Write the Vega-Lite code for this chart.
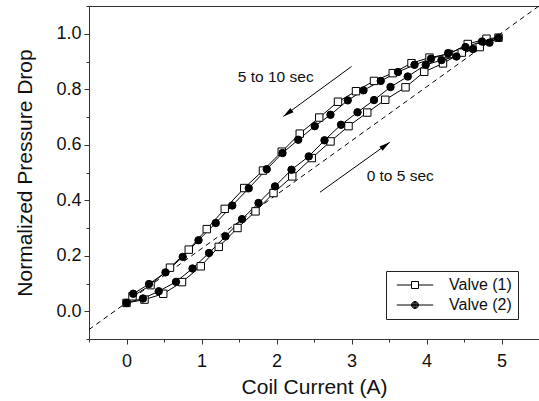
{
  "$schema": "https://vega.github.io/schema/vega-lite/v6.json",
  "width": 450,
  "height": 333,
  "autosize": {"type": "none"},
  "padding": {"left": 89, "top": 6, "right": 0, "bottom": 62},
  "background": "white",
  "config": {
    "font": "Liberation Sans",
    "view": {"stroke": "#333", "strokeWidth": 1},
    "axis": {
      "grid": false,
      "domainColor": "#333",
      "tickColor": "#333",
      "labelColor": "#111",
      "titleColor": "#111",
      "labelFont": "Liberation Sans",
      "titleFont": "Liberation Sans",
      "labelFontSize": 18,
      "titleFontSize": 21,
      "titleFontWeight": "normal",
      "labelOverlap": false,
      "labelFlush": false
    }
  },
  "resolve": {"axis": {"x": "independent", "y": "independent"}, "scale": {"shape": "independent"}},
  "datasets": {
    "loops": [
      {"valve": "Valve (1)", "t": 0, "x": 0.00, "y": 0.030},
      {"valve": "Valve (1)", "t": 1, "x": 0.24, "y": 0.042},
      {"valve": "Valve (1)", "t": 2, "x": 0.49, "y": 0.063},
      {"valve": "Valve (1)", "t": 3, "x": 0.74, "y": 0.105},
      {"valve": "Valve (1)", "t": 4, "x": 0.99, "y": 0.162},
      {"valve": "Valve (1)", "t": 5, "x": 1.23, "y": 0.232},
      {"valve": "Valve (1)", "t": 6, "x": 1.48, "y": 0.300},
      {"valve": "Valve (1)", "t": 7, "x": 1.72, "y": 0.360},
      {"valve": "Valve (1)", "t": 8, "x": 1.96, "y": 0.426},
      {"valve": "Valve (1)", "t": 9, "x": 2.21, "y": 0.486},
      {"valve": "Valve (1)", "t": 10, "x": 2.47, "y": 0.552},
      {"valve": "Valve (1)", "t": 11, "x": 2.72, "y": 0.612},
      {"valve": "Valve (1)", "t": 12, "x": 2.96, "y": 0.667},
      {"valve": "Valve (1)", "t": 13, "x": 3.21, "y": 0.716},
      {"valve": "Valve (1)", "t": 14, "x": 3.45, "y": 0.762},
      {"valve": "Valve (1)", "t": 15, "x": 3.72, "y": 0.807},
      {"valve": "Valve (1)", "t": 16, "x": 3.97, "y": 0.863},
      {"valve": "Valve (1)", "t": 17, "x": 4.22, "y": 0.893},
      {"valve": "Valve (1)", "t": 18, "x": 4.47, "y": 0.932},
      {"valve": "Valve (1)", "t": 19, "x": 4.71, "y": 0.952},
      {"valve": "Valve (1)", "t": 20, "x": 4.96, "y": 0.986},
      {"valve": "Valve (1)", "t": 21, "x": 4.80, "y": 0.982},
      {"valve": "Valve (1)", "t": 22, "x": 4.55, "y": 0.963},
      {"valve": "Valve (1)", "t": 23, "x": 4.30, "y": 0.927},
      {"valve": "Valve (1)", "t": 24, "x": 4.04, "y": 0.914},
      {"valve": "Valve (1)", "t": 25, "x": 3.80, "y": 0.894},
      {"valve": "Valve (1)", "t": 26, "x": 3.55, "y": 0.858},
      {"valve": "Valve (1)", "t": 27, "x": 3.30, "y": 0.830},
      {"valve": "Valve (1)", "t": 28, "x": 3.06, "y": 0.793},
      {"valve": "Valve (1)", "t": 29, "x": 2.82, "y": 0.755},
      {"valve": "Valve (1)", "t": 30, "x": 2.57, "y": 0.698},
      {"valve": "Valve (1)", "t": 31, "x": 2.31, "y": 0.640},
      {"valve": "Valve (1)", "t": 32, "x": 2.07, "y": 0.575},
      {"valve": "Valve (1)", "t": 33, "x": 1.82, "y": 0.507},
      {"valve": "Valve (1)", "t": 34, "x": 1.57, "y": 0.444},
      {"valve": "Valve (1)", "t": 35, "x": 1.31, "y": 0.369},
      {"valve": "Valve (1)", "t": 36, "x": 1.07, "y": 0.296},
      {"valve": "Valve (1)", "t": 37, "x": 0.83, "y": 0.222},
      {"valve": "Valve (1)", "t": 38, "x": 0.58, "y": 0.157},
      {"valve": "Valve (1)", "t": 39, "x": 0.32, "y": 0.094},
      {"valve": "Valve (1)", "t": 40, "x": 0.08, "y": 0.054},
      {"valve": "Valve (2)", "t": 0, "x": 0.00, "y": 0.030},
      {"valve": "Valve (2)", "t": 1, "x": 0.22, "y": 0.046},
      {"valve": "Valve (2)", "t": 2, "x": 0.43, "y": 0.072},
      {"valve": "Valve (2)", "t": 3, "x": 0.66, "y": 0.106},
      {"valve": "Valve (2)", "t": 4, "x": 0.88, "y": 0.154},
      {"valve": "Valve (2)", "t": 5, "x": 1.10, "y": 0.210},
      {"valve": "Valve (2)", "t": 6, "x": 1.32, "y": 0.270},
      {"valve": "Valve (2)", "t": 7, "x": 1.54, "y": 0.332},
      {"valve": "Valve (2)", "t": 8, "x": 1.76, "y": 0.390},
      {"valve": "Valve (2)", "t": 9, "x": 1.98, "y": 0.450},
      {"valve": "Valve (2)", "t": 10, "x": 2.20, "y": 0.510},
      {"valve": "Valve (2)", "t": 11, "x": 2.43, "y": 0.558},
      {"valve": "Valve (2)", "t": 12, "x": 2.64, "y": 0.616},
      {"valve": "Valve (2)", "t": 13, "x": 2.86, "y": 0.672},
      {"valve": "Valve (2)", "t": 14, "x": 3.08, "y": 0.717},
      {"valve": "Valve (2)", "t": 15, "x": 3.30, "y": 0.761},
      {"valve": "Valve (2)", "t": 16, "x": 3.52, "y": 0.808},
      {"valve": "Valve (2)", "t": 17, "x": 3.75, "y": 0.846},
      {"valve": "Valve (2)", "t": 18, "x": 3.99, "y": 0.888},
      {"valve": "Valve (2)", "t": 19, "x": 4.20, "y": 0.905},
      {"valve": "Valve (2)", "t": 20, "x": 4.40, "y": 0.918},
      {"valve": "Valve (2)", "t": 21, "x": 4.62, "y": 0.945},
      {"valve": "Valve (2)", "t": 22, "x": 4.84, "y": 0.968},
      {"valve": "Valve (2)", "t": 23, "x": 4.96, "y": 0.985},
      {"valve": "Valve (2)", "t": 24, "x": 4.74, "y": 0.972},
      {"valve": "Valve (2)", "t": 25, "x": 4.52, "y": 0.952},
      {"valve": "Valve (2)", "t": 26, "x": 4.29, "y": 0.930},
      {"valve": "Valve (2)", "t": 27, "x": 4.06, "y": 0.910},
      {"valve": "Valve (2)", "t": 28, "x": 3.84, "y": 0.888},
      {"valve": "Valve (2)", "t": 29, "x": 3.62, "y": 0.862},
      {"valve": "Valve (2)", "t": 30, "x": 3.39, "y": 0.830},
      {"valve": "Valve (2)", "t": 31, "x": 3.16, "y": 0.796},
      {"valve": "Valve (2)", "t": 32, "x": 2.95, "y": 0.760},
      {"valve": "Valve (2)", "t": 33, "x": 2.72, "y": 0.708},
      {"valve": "Valve (2)", "t": 34, "x": 2.51, "y": 0.667},
      {"valve": "Valve (2)", "t": 35, "x": 2.29, "y": 0.618},
      {"valve": "Valve (2)", "t": 36, "x": 2.08, "y": 0.570},
      {"valve": "Valve (2)", "t": 37, "x": 1.87, "y": 0.512},
      {"valve": "Valve (2)", "t": 38, "x": 1.63, "y": 0.443},
      {"valve": "Valve (2)", "t": 39, "x": 1.41, "y": 0.381},
      {"valve": "Valve (2)", "t": 40, "x": 1.19, "y": 0.318},
      {"valve": "Valve (2)", "t": 41, "x": 0.96, "y": 0.256},
      {"valve": "Valve (2)", "t": 42, "x": 0.75, "y": 0.196},
      {"valve": "Valve (2)", "t": 43, "x": 0.52, "y": 0.140},
      {"valve": "Valve (2)", "t": 44, "x": 0.30, "y": 0.098},
      {"valve": "Valve (2)", "t": 45, "x": 0.09, "y": 0.063}
    ]
  },
  "layer": [
    {
      "data": {"values": [{"x": -0.5, "y": -0.066}, {"x": 5.5, "y": 1.1}]},
      "mark": {"type": "line", "color": "black", "strokeWidth": 1, "strokeDash": [5, 4], "clip": true},
      "encoding": {
        "x": {
          "field": "x", "type": "quantitative",
          "scale": {"domain": [-0.5, 5.5], "nice": false, "zero": false},
          "axis": {
            "orient": "bottom",
            "title": "Coil Current (A)",
            "values": [0, 1, 2, 3, 4, 5],
            "format": "d",
            "tickSize": 5,
            "labelPadding": 8,
            "titlePadding": 6
          }
        },
        "y": {
          "field": "y", "type": "quantitative",
          "scale": {"domain": [-0.1, 1.1], "nice": false, "zero": false},
          "axis": {
            "orient": "left",
            "title": "Normalized Pressure Drop",
            "values": [0, 0.2, 0.4, 0.6, 0.8, 1.0],
            "format": ".1f",
            "tickSize": 5,
            "labelPadding": 3,
            "titlePadding": 20
          }
        }
      }
    },
    {
      "data": {"name": "loops"},
      "mark": {"type": "line", "color": "black", "strokeWidth": 1},
      "encoding": {
        "x": {"field": "x", "type": "quantitative", "axis": {"orient": "bottom", "values": [-0.5, 0.5, 1.5, 2.5, 3.5, 4.5, 5.5], "labels": false, "domain": false, "title": null, "tickSize": 3}},
        "y": {"field": "y", "type": "quantitative", "axis": {"orient": "left", "values": [-0.1, 0.1, 0.3, 0.5, 0.7, 0.9, 1.1], "labels": false, "domain": false, "title": null, "tickSize": 3}},
        "detail": {"field": "valve"},
        "order": {"field": "t", "type": "quantitative"}
      }
    },
    {
      "data": {"name": "loops"},
      "mark": {"type": "point", "filled": false, "color": "black", "stroke": "black", "strokeWidth": 1, "opacity": 0},
      "encoding": {
        "x": {"field": "x", "type": "quantitative", "axis": null},
        "y": {"field": "y", "type": "quantitative", "axis": null},
        "shape": {
          "field": "valve", "type": "nominal",
          "scale": {"domain": ["Valve (1)", "Valve (2)"], "range": [
            "M-5.2,0L-1,0M1,0L5.2,0M-1,-1L1,-1L1,1L-1,1Z",
            "M-5.2,0L5.2,0M-1,0A1,1,0,1,0,1,0A1,1,0,1,0,-1,0ZM-0.78,0A0.78,0.78,0,1,0,0.78,0A0.78,0.78,0,1,0,-0.78,0ZM-0.56,0A0.56,0.56,0,1,0,0.56,0A0.56,0.56,0,1,0,-0.56,0ZM-0.34,0A0.34,0.34,0,1,0,0.34,0A0.34,0.34,0,1,0,-0.34,0ZM-0.13,0A0.13,0.13,0,1,0,0.13,0A0.13,0.13,0,1,0,-0.13,0Z"
          ]},
          "legend": {
            "title": null,
            "orient": "none",
            "legendX": 297,
            "legendY": 265,
            "strokeColor": "#222",
            "padding": 6,
            "labelFontSize": 16,
            "labelFont": "Liberation Sans",
            "labelColor": "#111",
            "labelExpr": "datum.label + '  '",
            "symbolSize": 49,
            "symbolOpacity": 1,
            "symbolStrokeColor": "black",
            "symbolStrokeWidth": 1,
            "symbolOffset": 15,
            "labelOffset": 26,
            "rowPadding": 4,
            "encode": {
              "symbols": {
                "stroke": {"value": "black"},
                "strokeWidth": {"value": 1},
                "opacity": {"value": 1}
              }
            }
          }
        }
      }
    },
    {
      "data": {"name": "loops"},
      "mark": {"type": "point", "filled": true, "stroke": "black", "strokeWidth": 1, "size": 55, "opacity": 1},
      "encoding": {
        "x": {"field": "x", "type": "quantitative", "axis": null},
        "y": {"field": "y", "type": "quantitative", "axis": null},
        "shape": {
          "field": "valve", "type": "nominal",
          "scale": {"domain": ["Valve (1)", "Valve (2)"], "range": ["square", "circle"]},
          "legend": null
        },
        "fill": {
          "field": "valve", "type": "nominal",
          "scale": {"domain": ["Valve (1)", "Valve (2)"], "range": ["white", "black"]},
          "legend": null
        }
      }
    },
    {
      "data": {"values": [
        {"x": 3.0, "y": 0.882, "x2": 2.09, "y2": 0.702},
        {"x": 2.58, "y": 0.429, "x2": 3.51, "y2": 0.609}
      ]},
      "mark": {"type": "rule", "color": "black", "strokeWidth": 1},
      "encoding": {
        "x": {"field": "x", "type": "quantitative", "axis": null},
        "y": {"field": "y", "type": "quantitative", "axis": null},
        "x2": {"field": "x2"},
        "y2": {"field": "y2"}
      }
    },
    {
      "data": {"values": [{"x": 2.09, "y": 0.702}]},
      "mark": {"type": "point", "shape": "M0,0L0.45,1.8L-0.45,1.8Z", "filled": true, "color": "black", "size": 144, "angle": 234, "opacity": 1},
      "encoding": {
        "x": {"field": "x", "type": "quantitative", "axis": null},
        "y": {"field": "y", "type": "quantitative", "axis": null}
      }
    },
    {
      "data": {"values": [{"x": 3.51, "y": 0.609}]},
      "mark": {"type": "point", "shape": "M0,0L0.45,1.8L-0.45,1.8Z", "filled": true, "color": "black", "size": 144, "angle": 54, "opacity": 1},
      "encoding": {
        "x": {"field": "x", "type": "quantitative", "axis": null},
        "y": {"field": "y", "type": "quantitative", "axis": null}
      }
    },
    {
      "data": {"values": [
        {"label": "5 to 10 sec", "x": 1.99, "y": 0.843},
        {"label": "0 to 5 sec", "x": 3.65, "y": 0.486}
      ]},
      "mark": {"type": "text", "font": "Liberation Sans", "fontSize": 15.5, "color": "#111", "align": "center", "baseline": "middle"},
      "encoding": {
        "x": {"field": "x", "type": "quantitative", "axis": null},
        "y": {"field": "y", "type": "quantitative", "axis": null},
        "text": {"field": "label"}
      }
    }
  ]
}
